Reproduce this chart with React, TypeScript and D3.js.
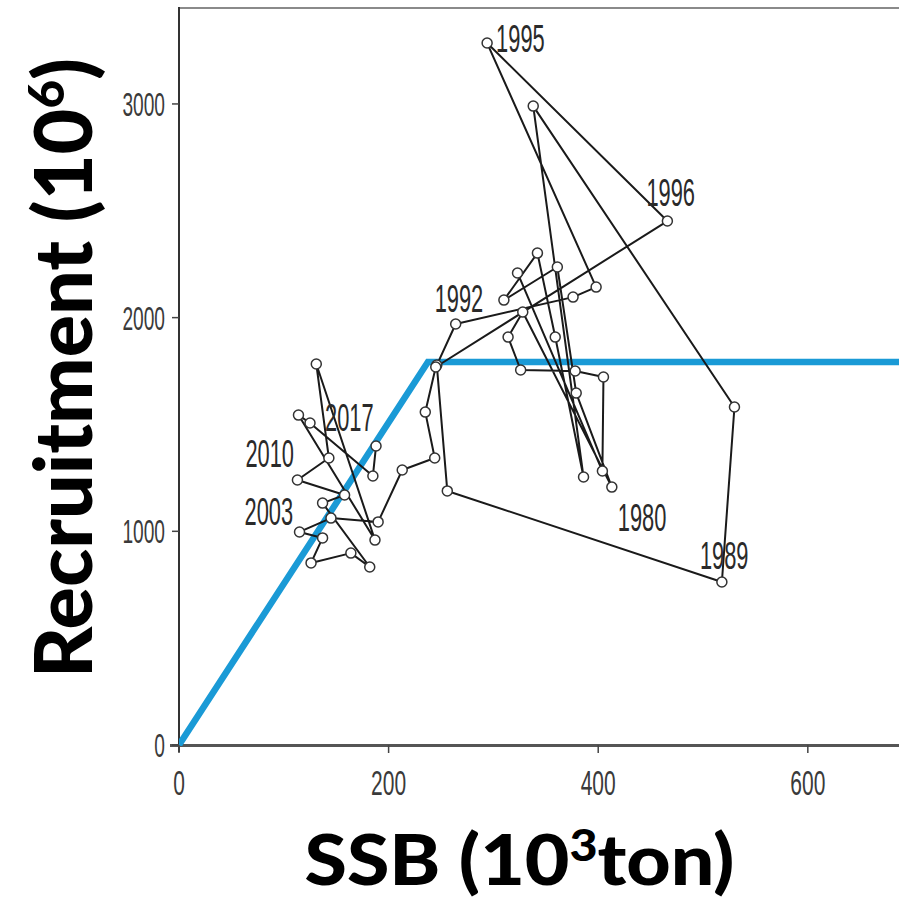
import React from "react";
import * as d3 from "d3";

// ---- data ----
const years = [
  1973, 1974, 1975, 1976, 1977, 1978, 1979, 1980, 1981, 1982, 1983, 1984, 1985, 1986, 1987, 1988, 1989,
  1990, 1991, 1992, 1993, 1994, 1995, 1996, 1997, 1998, 1999, 2000, 2001, 2002, 2003, 2004, 2005, 2006,
  2007, 2008, 2009, 2010, 2011, 2012, 2013, 2014, 2015, 2016, 2017,
];
const ssb = [
  323, 404, 405, 378, 326, 314, 328, 413, 379, 361, 310, 342, 359, 386, 338, 530, 518,
  256, 246, 264, 376, 398, 294, 466, 245, 235, 244, 213, 190, 145, 115, 137, 126, 164,
  182, 137, 158, 113, 143, 131, 187, 114, 125, 185, 188,
];
const recruitment = [
  2209, 1282, 1722, 1750, 1755, 1909, 2026, 1207, 1647, 2237, 2082, 2302, 1909, 1254, 2990, 1582, 763,
  1189, 1778, 1970, 2096, 2143, 3285, 2452, 1769, 1558, 1343, 1287, 1044, 1062, 997, 969, 852, 898,
  833, 1132, 1170, 1240, 1343, 1783, 959, 1544, 1507, 1259, 1399,
];
const labelledYears = [1980, 1989, 1992, 1995, 1996, 2003, 2010, 2017];

// hockey-stick stock-recruitment relationship
const hsSSB = [0, 237.5, 700];
const hsRec = [0, 1792, 1792];

const xTicks = [0, 200, 400, 600];
const yTicks = [0, 1000, 2000, 3000];

// label placement (px offsets from the point; text start / baseline)
const labelOffset: Record<number, [number, number]> = {
  1980: [6, 44],
  1989: [-22, -13],
  1992: [-21, -12],
  1995: [9, 9],
  1996: [-21, -15],
  2003: [-55, -7],
  2010: [-52, -13],
  2017: [-51, -15],
};

const W = 899;
const H = 905;

export default function App() {
  const x = d3.scaleLinear().domain([0, 687]).range([179, 899]);
  const y = d3.scaleLinear().domain([0, 3449]).range([745, 8]);

  const pts = years.map((yr, i) => ({ yr, s: ssb[i], r: recruitment[i] }));
  const path = d3
    .line<{ s: number; r: number }>()
    .x((d) => x(d.s))
    .y((d) => y(d.r))(pts) as string;

  const hs = d3
    .line<number>()
    .x((d) => x(d))
    .y((_, i) => y(hsRec[i]))(hsSSB) as string;

  const smallFont = "'Liberation Sans', Arial, sans-serif";
  const titleFont = "Lato, 'Open Sans', sans-serif";

  return (
    <svg
      width={W}
      height={H}
      viewBox={`0 0 ${W} ${H}`}
      style={{ position: "absolute", left: 0, top: 0, background: "#fff" }}
    >
      <defs>
        <clipPath id="plotClip">
          <rect x={179} y={0} width={W - 179} height={746} />
        </clipPath>
      </defs>

      {/* frame */}
      <line x1={179} x2={W} y1={8} y2={8} stroke="#8a8a8a" strokeWidth={2} />
      <line x1={179} x2={179} y1={7} y2={752} stroke="#333" strokeWidth={2} />
      <line x1={170} x2={W} y1={745.5} y2={745.5} stroke="#555" strokeWidth={3} />

      {/* y ticks */}
      {yTicks.map((t) => (
        <g key={"y" + t}>
          <line x1={172} x2={179} y1={y(t)} y2={y(t)} stroke="#444" strokeWidth={1.5} />
          <text
            transform={`translate(165,${y(t)}) scale(0.58,1)`}
            textAnchor="end"
            dy="0.36em"
            fontFamily={smallFont}
            fontSize={33}
            fill="#3a3a3a"
          >
            {t}
          </text>
        </g>
      ))}

      {/* x ticks */}
      {xTicks.map((t) => (
        <g key={"x" + t}>
          <line x1={x(t)} x2={x(t)} y1={745} y2={753} stroke="#444" strokeWidth={1.5} />
          <text
            transform={`translate(${x(t)},795) scale(0.6,1)`}
            textAnchor="middle"
            fontFamily={smallFont}
            fontSize={35}
            fill="#3a3a3a"
          >
            {t}
          </text>
        </g>
      ))}

      {/* hockey stick */}
      <g clipPath="url(#plotClip)">
        <path d={hs} fill="none" stroke="#1a9ad6" strokeWidth={6.5} strokeLinejoin="miter" />
      </g>

      {/* trajectory */}
      <path d={path} fill="none" stroke="#1a1a1a" strokeWidth={2} strokeLinejoin="round" />
      {pts.map((d) => (
        <circle
          key={d.yr}
          cx={x(d.s)}
          cy={y(d.r)}
          r={5}
          fill="#fff"
          stroke="#333"
          strokeWidth={1.5}
        />
      ))}

      {/* year labels */}
      {pts
        .filter((d) => labelledYears.includes(d.yr))
        .map((d) => {
          const [dx, dy] = labelOffset[d.yr] || [6, -6];
          return (
            <text
              key={"l" + d.yr}
              transform={`translate(${x(d.s) + dx},${y(d.r) + dy}) scale(0.56,1)`}
              fontFamily={smallFont}
              fontSize={39}
              fill="#2a2a2a"
            >
              {d.yr}
            </text>
          );
        })}

      {/* axis titles */}
      <text
        x={W / 2 + 70}
        y={885}
        textAnchor="middle"
        fontFamily={titleFont}
        fontWeight={900}
        fontSize={70}
        fill="#000"
        textLength={430}
        lengthAdjust="spacingAndGlyphs"
      >
        SSB (10
        <tspan fontSize={44} dy={-24}>
          3
        </tspan>
        <tspan dy={24}>ton)</tspan>
      </text>
      <text
        transform={`translate(92,368) rotate(-90)`}
        textAnchor="middle"
        fontFamily={titleFont}
        fontWeight={900}
        fontSize={80}
        fill="#000"
        textLength={620}
        lengthAdjust="spacingAndGlyphs"
      >
        Recruitment (10
        <tspan fontSize={50} dy={-28}>
          6
        </tspan>
        <tspan dy={28}>)</tspan>
      </text>
    </svg>
  );
}
